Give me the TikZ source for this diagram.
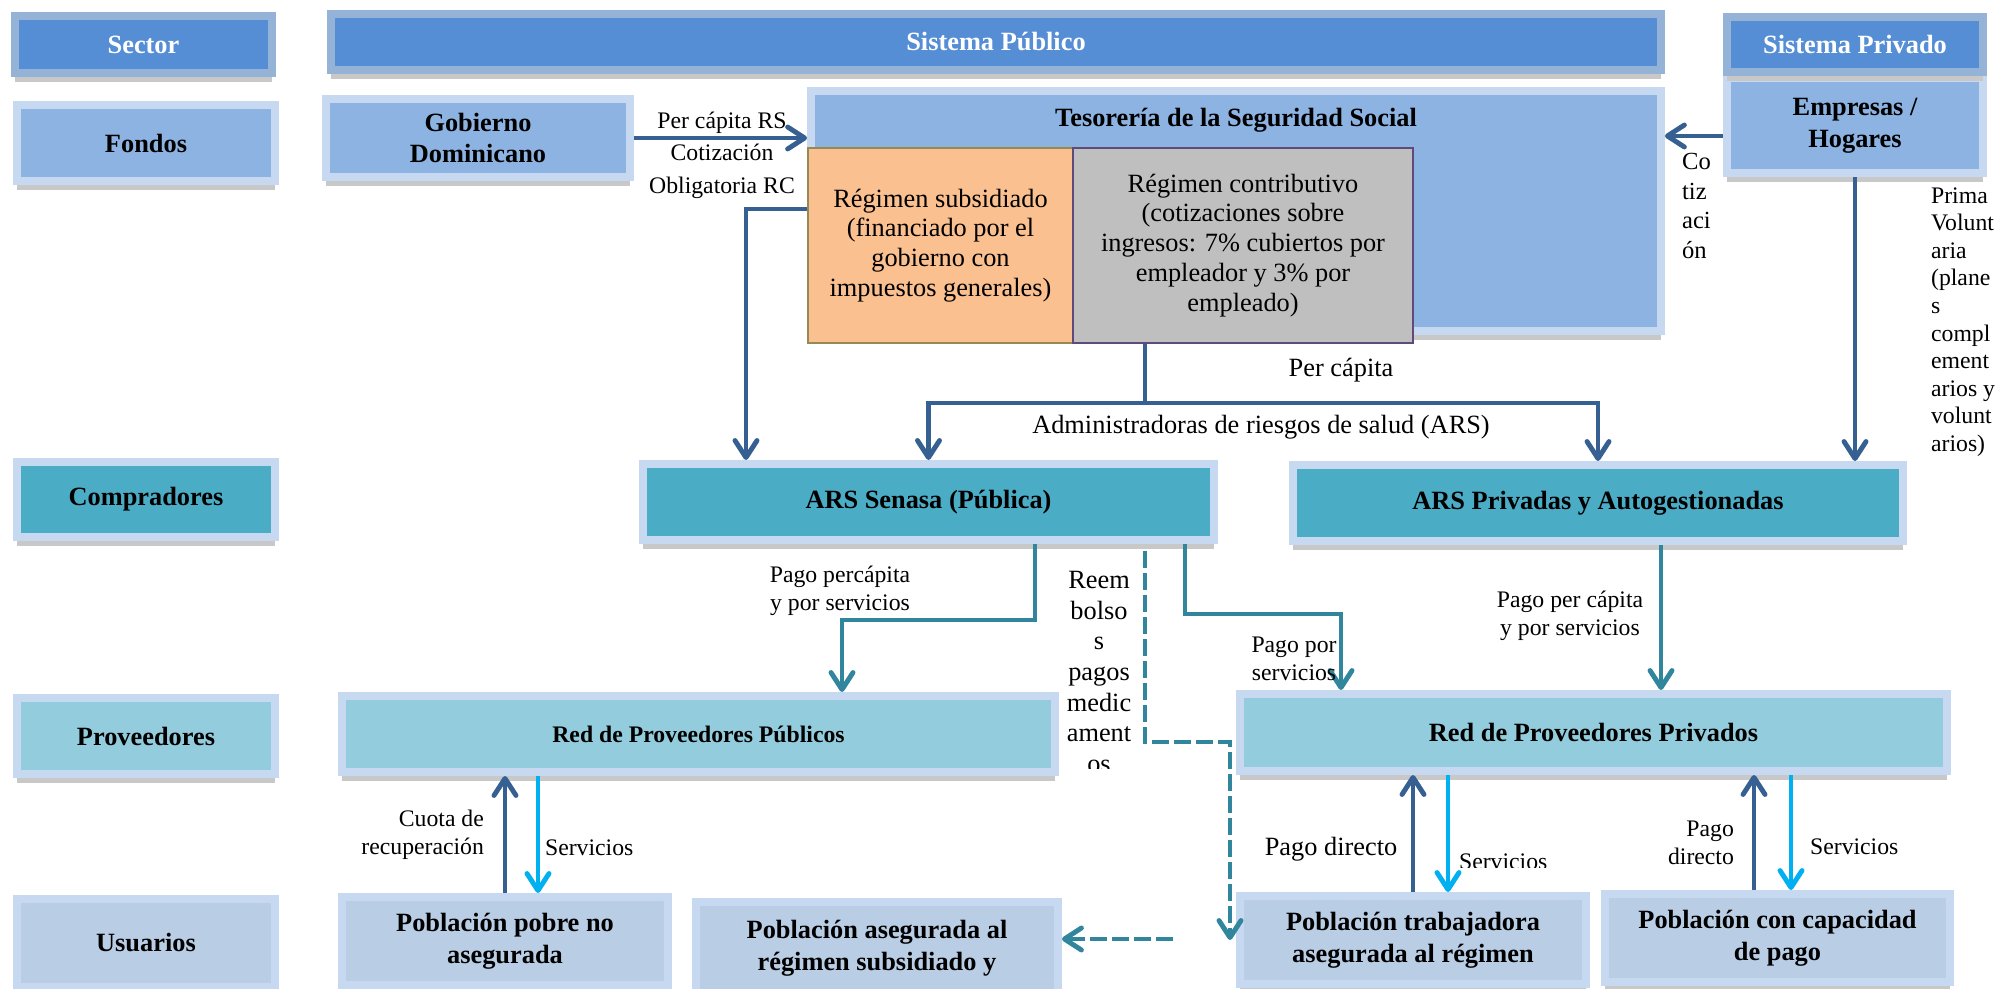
\documentclass[tikz,border=0pt]{standalone}
\usepackage{fontspec}
\setmainfont{Liberation Serif}
\usepackage{tikz}
\usetikzlibrary{arrows.meta,shadows,calc}
\usepackage{xcolor}
\definecolor{headblue}{RGB}{85,142,213}
\definecolor{headframe}{RGB}{149,179,215}
\definecolor{fundblue}{RGB}{141,179,226}
\definecolor{paleframe}{RGB}{198,217,241}
\definecolor{buyerteal}{RGB}{75,172,198}
\definecolor{provteal}{RGB}{147,205,221}
\definecolor{userblue}{RGB}{185,205,229}
\definecolor{subsorange}{RGB}{250,192,144}
\definecolor{subsedge}{RGB}{148,138,84}
\definecolor{contgray}{RGB}{191,191,191}
\definecolor{contedge}{RGB}{96,74,123}
\definecolor{flowblue}{RGB}{55,96,146}
\definecolor{flowteal}{RGB}{49,133,156}
\definecolor{flowcyan}{RGB}{0,176,240}
\definecolor{shadegray}{RGB}{200,200,200}

\begin{document}
\begin{tikzpicture}[x=0.02cm, y=-0.02cm,
    box/.style={draw=paleframe, line width=0.16cm, inner sep=0pt, align=center,
        font=\bfseries\fontsize{15}{18}\selectfont,
        drop shadow={shadow xshift=0cm, shadow yshift=-0.19cm, fill=shadegray, opacity=1}},
    headbox/.style={box, fill=headblue, draw=headframe, text=white},
    regime/.style={draw, line width=0.8pt, inner sep=0pt, align=center, font=\fontsize{15}{17}\selectfont},
    lbl/.style={inner sep=1pt, align=center, font=\fontsize{13.5}{16}\selectfont},
    flow/.style={flowblue, line width=2.8pt, -{Straight Barb[length=0.34cm, width=0.44cm, round]}},
    tealflow/.style={flow, flowteal},
    cyanflow/.style={flow, flowcyan},
    refund/.style={flow, flowteal, dash pattern=on 0.34cm off 0.1cm}]
    \useasboundingbox (0,0) rectangle (2004,989);

    % Header row
    \node[headbox, minimum width=5.14cm, minimum height=1.14cm] (sector) at (143.5,44.5) {Sector};
    \node[headbox, minimum width=26.6cm, minimum height=1.12cm] (publico) at (996,42) {Sistema Público};
    \node[box, fill=fundblue, minimum width=5.12cm, minimum height=1.90cm] (empresas) at (1855,125.5) {Empresas /\\Hogares};
    \node[headbox, minimum width=5.12cm, minimum height=1.10cm] (privado) at (1855,44.5) {Sistema Privado};

    % Row labels
    \foreach \rowname/\ypos/\hgt/\fillcol/\rowtext in {fondos/143/1.52cm/fundblue/Fondos,
        compradores/499.5/1.50cm/buyerteal/Compradores, proveedores/736/1.52cm/provteal/Proveedores,
        usuarios/943/1.76cm/userblue/Usuarios} {
        \node[box, fill=\fillcol, minimum width=5.16cm, minimum height=\hgt] (\rowname) at (146,\ypos) {\rowtext};
    }

    % Funds
    \node[box, fill=fundblue, minimum width=6.08cm, minimum height=1.56cm] (gobierno) at (478,138) {Gobierno\\Dominicano};
    \node[box, fill=fundblue, minimum width=17cm, minimum height=4.8cm] (tesoreria) at (1236,211) {};
    \node[font=\bfseries\fontsize{15}{18}\selectfont] (tesotitle) at (1236,120) {Tesorería de la Seguridad Social};
    \node[regime, fill=subsorange, draw=subsedge, minimum width=5.3cm, minimum height=3.9cm] (subsid) at (940.5,245.5)
        {Régimen subsidiado\\(financiado por el\\gobierno con\\impuestos generales)};
    \node[regime, fill=contgray, draw=contedge, minimum width=6.8cm, minimum height=3.9cm] (contrib) at (1243,245.5)
        {Régimen contributivo\\(cotizaciones sobre\\ingresos: 7\% cubiertos por\\empleador y 3\% por\\empleado)};

    % Buyers
    \node[box, fill=buyerteal, minimum width=11.42cm, minimum height=1.52cm] (senasa) at (928.5,502) {ARS Senasa (Pública)};
    \node[box, fill=buyerteal, minimum width=12.2cm, minimum height=1.52cm] (arspriv) at (1598,503) {ARS Privadas y Autogestionadas};

    % Providers
    \node[box, fill=provteal, minimum width=14.26cm, minimum height=1.52cm, font=\bfseries\fontsize{13.5}{16}\selectfont] (redpub) at (698.5,734) {Red de Proveedores Públicos};
    \node[box, fill=provteal, minimum width=14.14cm, minimum height=1.54cm] (redpriv) at (1593.5,732.5) {Red de Proveedores Privados};

    % Users
    \node[box, fill=userblue, minimum width=6.52cm, minimum height=1.76cm] (pobre) at (505,941) {Población pobre no\\asegurada};
    \node[box, fill=userblue, minimum width=7.24cm, minimum height=1.84cm] (asegsub) at (877,948) {Población asegurada al\\régimen subsidiado y};
    \node[box, fill=userblue, minimum width=6.92cm, minimum height=1.76cm] (trabaj) at (1413,940) {Población trabajadora\\asegurada al régimen};
    \node[box, fill=userblue, minimum width=6.9cm, minimum height=1.76cm] (capac) at (1777.5,938) {Población con capacidad\\de pago};

    % Funding flows
    \draw[flow] (gobierno.east) -- (gobierno.east -| tesoreria.west);
    \node[lbl, font=\fontsize{13.5}{18.5}\selectfont] (lblrs) at (722,155) {Per cápita RS\\Cotización\\Obligatoria RC};
    \coordinate (empout) at ([yshift=-0.21cm]empresas.west);
    \draw[flow] (empout) -- (empout -| tesoreria.east);
    \node[lbl, align=left, anchor=west, font=\fontsize{14}{17}\selectfont] (lblcotiz) at (1680,206) {Co\\tiz\\aci\\ón};
    \node[lbl, align=left, anchor=west, font=\fontsize{13.5}{15.7}\selectfont] (lblprima) at (1929,322)
        {Prima\\Volunt\\aria\\(plane\\s\\compl\\ement\\arios y\\volunt\\arios)};

    % Flows to buyers
    \coordinate (subsdrop) at (746,209);
    \draw[flow] (subsid.west |- subsdrop) -- (subsdrop) -- (subsdrop |- senasa.north);
    \coordinate (percap) at (1145,403);
    \draw[flow] (percap |- contrib.south) -- (percap) -| (senasa.north);
    \draw[flow] (percap) -| (arspriv.north);
    \draw[flow] (empresas.south) -- (empresas.south |- arspriv.north);
    \node[lbl, font=\fontsize{15}{18}\selectfont] (lblpercap) at (1341,370) {Per cápita};
    \node[lbl, font=\fontsize{15}{18}\selectfont] (lblars) at (1261,427) {Administradoras de riesgos de salud (ARS)};

    % Flows to providers
    \coordinate (pubturn) at (1035,620);
    \coordinate (pubdrop) at (842,620);
    \draw[tealflow] (senasa.south -| pubturn) -- (pubturn) -- (pubdrop) -- (pubdrop |- redpub.north);
    \node[lbl] (lblpubpay) at (840,591) {Pago percápita\\y por servicios};
    \coordinate (privturn) at (1185,614);
    \coordinate (privdrop) at (1341,614);
    \draw[tealflow] (senasa.south -| privturn) -- (privturn) -- (privdrop) -- (privdrop |- redpriv.north);
    \node[lbl] (lblprivpay) at (1294,659) {Pago por\\servicios};
    \coordinate (arspay) at (1661,600);
    \draw[tealflow] (arspriv.south -| arspay) -- (arspay |- redpriv.north);
    \node[lbl] (lblarspay) at (1570,616) {Pago per cápita\\y por servicios};

    % Refunds
    \coordinate (reemb) at (1145,742);
    \coordinate (reembend) at (1230,940);
    \draw[refund] ([yshift=-0.14cm]senasa.south -| reemb) -- (reemb) -| (reembend);
    \coordinate (reembleft) at (1173,939);
    \draw[refund] (reembleft) -- (reembleft -| asegsub.east);
    \begin{scope}
        \clip (1050,550) rectangle (1140,768);
        \node[lbl, font=\fontsize{15}{17.5}\selectfont] (lblreemb) at (1099,672) {Reem\\bolso\\s\\pagos\\medic\\ament\\os};
    \end{scope}

    % Providers and users
    \coordinate (pobreserv) at ([xshift=0.66cm]pobre.north);
    \draw[flow] (pobre.north) -- (pobre.north |- redpub.south);
    \draw[cyanflow] (pobreserv |- redpub.south) -- (pobreserv);
    \node[lbl, align=right, anchor=east] (lblcuota) at (486,835) {Cuota de\\recuperación};
    \node[lbl, anchor=west] (lblserv1) at (543,848) {Servicios};

    \coordinate (trabserv) at ([xshift=0.7cm]trabaj.north);
    \draw[flow] (trabaj.north) -- (trabaj.north |- redpriv.south);
    \draw[cyanflow] (trabserv |- redpriv.south) -- (trabserv);
    \node[lbl, font=\fontsize{15}{18}\selectfont] (lbldirect1) at (1331,849) {Pago directo};
    \begin{scope}
        \clip (1450,840) rectangle (1560,867);
        \node[lbl, anchor=west] (lblserv2) at (1457,862) {Servicios};
    \end{scope}

    \coordinate (capup) at ([xshift=-0.47cm]capac.north);
    \coordinate (capserv) at ([xshift=0.27cm]capac.north);
    \draw[flow] (capup) -- (capup |- redpriv.south);
    \draw[cyanflow] (capserv |- redpriv.south) -- (capserv);
    \node[lbl, align=right, anchor=east] (lbldirect2) at (1736,843) {Pago\\directo};
    \node[lbl, anchor=west] (lblserv3) at (1808,847) {Servicios};
\end{tikzpicture}
\end{document}
